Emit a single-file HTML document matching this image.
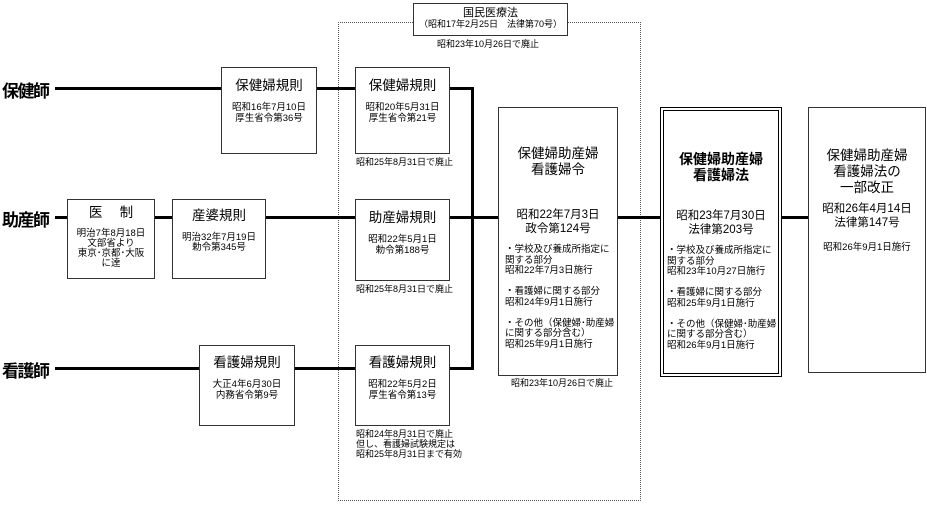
<!DOCTYPE html>
<html><head><meta charset="utf-8"><style>
body{margin:0;width:927px;height:505px;background:#fff;position:relative;overflow:hidden;font-family:"Liberation Sans","Noto Sans CJK JP",sans-serif;color:#000}
div{position:absolute;box-sizing:border-box}
.b{border:1px solid #333;background:#fff;text-align:center}
.l{background:#000}
.t{font-size:13.5px;line-height:16px}
.s{font-size:9.5px;line-height:11px}
.lab{font-size:17px;font-weight:bold;letter-spacing:-1.5px}
.n{font-size:9px;line-height:10px;white-space:nowrap}
</style></head><body>
<div style="left:338px;top:22px;width:303px;height:479px;border:1px dotted #555"></div>
<div class="l" style="left:55px;top:87px;width:166px;height:3px"></div>
<div class="l" style="left:316px;top:87px;width:39px;height:3px"></div>
<div class="l" style="left:449px;top:87px;width:25px;height:3px"></div>
<div class="l" style="left:471px;top:87px;width:3px;height:283px"></div>
<div class="l" style="left:55px;top:216px;width:12px;height:3px"></div>
<div class="l" style="left:154px;top:216px;width:18px;height:3px"></div>
<div class="l" style="left:265px;top:216px;width:90px;height:3px"></div>
<div class="l" style="left:449px;top:216px;width:49px;height:3px"></div>
<div class="l" style="left:617px;top:216px;width:43px;height:3px"></div>
<div class="l" style="left:781px;top:216px;width:27px;height:3px"></div>
<div class="l" style="left:55px;top:367px;width:144px;height:3px"></div>
<div class="l" style="left:294px;top:367px;width:61px;height:3px"></div>
<div class="l" style="left:449px;top:367px;width:25px;height:3px"></div>
<div class="lab" style="left:2px;top:77px">保健師</div>
<div class="lab" style="left:2px;top:206px">助産師</div>
<div class="lab" style="left:2px;top:357px">看護師</div>
<div class="b" style="left:413px;top:3px;width:155px;height:33px;padding-top:3px"><div style="position:static;font-size:11px;line-height:12px">国民医療法</div><div style="position:static;font-size:9px;line-height:11px">（昭和17年2月25日　法律第70号）</div></div>
<div class="n" style="left:437px;top:39px">昭和23年10月26日で廃止</div>
<div class="b" style="left:221px;top:67px;width:96px;height:87px;padding-top:10px"><div class="t" style="position:static">保健婦規則</div><div class="s" style="position:static;margin-top:8px">昭和16年7月10日<br>厚生省令第36号</div></div>
<div class="b" style="left:355px;top:67px;width:95px;height:87px;padding-top:10px"><div class="t" style="position:static">保健婦規則</div><div class="s" style="position:static;margin-top:8px">昭和20年5月31日<br>厚生省令第21号</div></div>
<div class="n" style="left:356px;top:157px">昭和25年8月31日で廃止</div>
<div class="b" style="left:67px;top:199px;width:88px;height:80px;padding-top:5px"><div class="t" style="position:static">医　 制</div><div class="s" style="position:static;margin-top:8px;line-height:10px">明治7年8月18日<br>文部省より<br>東京･京都･大阪<br>に達</div></div>
<div class="b" style="left:172px;top:199px;width:94px;height:80px;padding-top:8px"><div class="t" style="position:static">産婆規則</div><div class="s" style="position:static;margin-top:9px;line-height:10px">明治32年7月19日<br>勅令第345号</div></div>
<div class="b" style="left:355px;top:199px;width:95px;height:82px;padding-top:10px"><div class="t" style="position:static">助産婦規則</div><div class="s" style="position:static;margin-top:8px">昭和22年5月1日<br>勅令第188号</div></div>
<div class="n" style="left:356px;top:284px">昭和25年8月31日で廃止</div>
<div class="b" style="left:199px;top:345px;width:96px;height:81px;padding-top:9px"><div class="t" style="position:static">看護婦規則</div><div class="s" style="position:static;margin-top:8px">大正4年6月30日<br>内務省令第9号</div></div>
<div class="b" style="left:355px;top:345px;width:95px;height:81px;padding-top:9px"><div class="t" style="position:static">看護婦規則</div><div class="s" style="position:static;margin-top:8px">昭和22年5月2日<br>厚生省令第13号</div></div>
<div class="n" style="left:356px;top:429px">昭和24年8月31日で廃止<br>但し、看護婦試験規定は<br>昭和25年8月31日まで有効</div>
<div class="b" style="left:498px;top:107px;width:120px;height:269px;padding-top:38px"><div class="t" style="position:static">保健婦助産婦<br>看護婦令</div><div class="t" style="position:static;margin-top:30px;font-size:11.5px;line-height:14px">昭和22年7月3日<br>政令第124号</div><div class="s" style="position:static;text-align:left;padding-left:6px;margin-top:9px;line-height:10.5px">・学校及び養成所指定に<br>関する部分<br>昭和22年7月3日施行<br><br>・看護婦に関する部分<br>昭和24年9月1日施行<br><br>・その他（保健婦･助産婦<br>に関する部分含む）<br>昭和25年9月1日施行</div></div>
<div class="n" style="left:511px;top:378px">昭和23年10月26日で廃止</div>
<div class="b" style="left:660px;top:107px;width:122px;height:270px;border:4px double #000;padding-top:40px"><div class="t" style="position:static;font-weight:bold;font-size:14px;line-height:16px">保健婦助産婦<br>看護婦法</div><div class="t" style="position:static;margin-top:26px;font-size:11.5px;line-height:14px">昭和23年7月30日<br>法律第203号</div><div class="s" style="position:static;text-align:left;padding-left:3px;margin-top:9px;line-height:10.5px">・学校及び養成所指定に<br>関する部分<br>昭和23年10月27日施行<br><br>・看護婦に関する部分<br>昭和25年9月1日施行<br><br>・その他（保健婦･助産婦<br>に関する部分含む）<br>昭和26年9月1日施行</div></div>
<div class="b" style="left:808px;top:107px;width:118px;height:266px;padding-top:40px"><div class="t" style="position:static">保健婦助産婦<br>看護婦法の<br>一部改正</div><div class="t" style="position:static;margin-top:6px;font-size:11.5px;line-height:14px">昭和26年4月14日<br>法律第147号</div><div class="s" style="position:static;margin-top:12px">昭和26年9月1日施行</div></div>
</body></html>
